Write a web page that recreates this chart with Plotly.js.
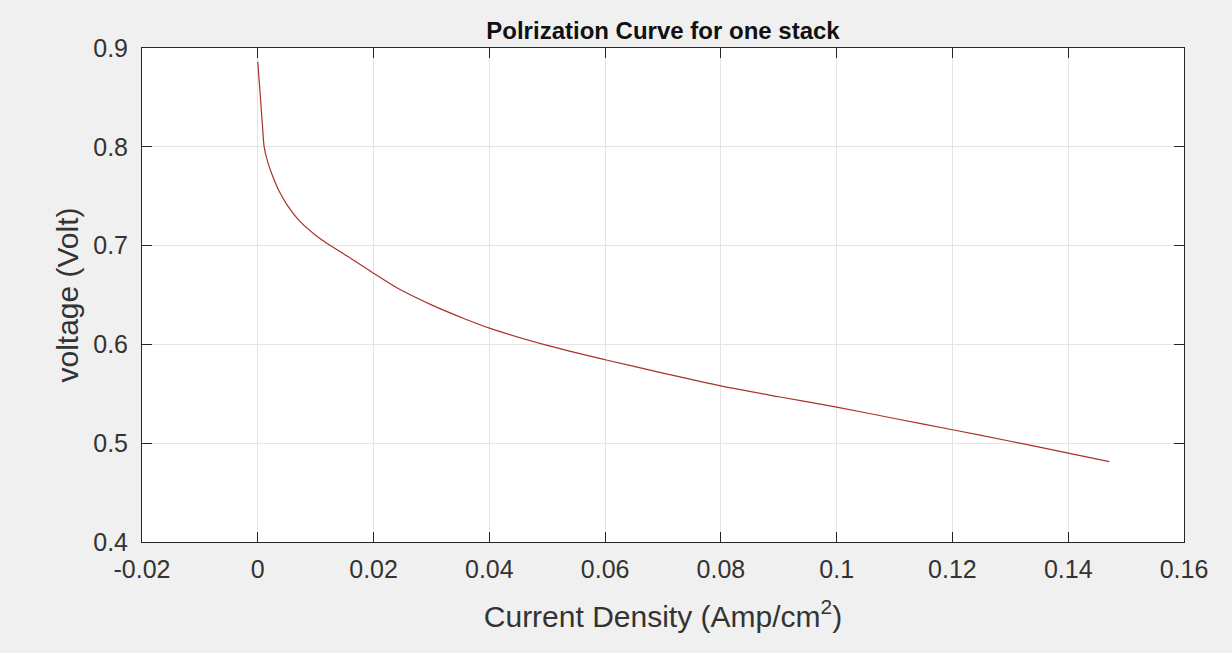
<!DOCTYPE html>
<html>
<head>
<meta charset="utf-8">
<script src="https://cdn.plot.ly/plotly-3.0.1.min.js"></script>
<style>
  html, body { margin: 0; padding: 0; background: #f0f0f0; }
  #chart { width: 1232px; height: 653px; }
</style>
</head>
<body>
<div id="chart"></div>
<script>
// Current density (Amp/cm^2)
const currentDensity = [0, 0.0002, 0.0004, 0.0006, 0.0008, 0.0011, 0.0017, 0.0026, 0.0037, 0.0052, 0.0072, 0.0101, 0.0128, 0.0161, 0.0200, 0.0241, 0.0300, 0.0357, 0.0400, 0.0500, 0.0600, 0.0700, 0.0800, 0.0900, 0.1000, 0.1100, 0.1200, 0.1300, 0.1400, 0.1471];
// Stack voltage (Volt)
const voltage = [0.886, 0.870, 0.855, 0.838, 0.822, 0.800, 0.785, 0.770, 0.755, 0.740, 0.725, 0.710, 0.699, 0.687, 0.672, 0.657, 0.640, 0.626, 0.6165, 0.599, 0.5845, 0.571, 0.558, 0.547, 0.5365, 0.525, 0.5136, 0.502, 0.490, 0.4813];

const xTickVals = [-0.02, 0, 0.02, 0.04, 0.06, 0.08, 0.1, 0.12, 0.14, 0.16];
const xTickText = ["-0.02", "0", "0.02", "0.04", "0.06", "0.08", "0.1", "0.12", "0.14", "0.16"];
const yTickVals = [0.4, 0.5, 0.6, 0.7, 0.8, 0.9];
const yTickText = ["0.4", "0.5", "0.6", "0.7", "0.8", "0.9"];

const chartTitle = "Polrization Curve for one stack";
const xTitle = "Current Density (Amp/cm<sup>2</sup>)";
const yTitle = "voltage (Volt)";

const axisColor = "#262626";
const fontFamily = "Liberation Sans, Arial, Helvetica, sans-serif";

const trace = {
  x: currentDensity,
  y: voltage,
  type: "scatter",
  mode: "lines",
  line: { color: "#a8322c", width: 1.2, shape: "spline", smoothing: 0.8 },
  hoverinfo: "x+y",
  showlegend: false
};

const commonAxis = {
  showline: true,
  linecolor: axisColor,
  linewidth: 1,
  mirror: "ticks",
  ticks: "inside",
  ticklen: 10,
  tickwidth: 1,
  tickcolor: axisColor,
  showgrid: true,
  gridcolor: "#e4e4e4",
  gridwidth: 1,
  zeroline: false,
  tickmode: "array",
  tickfont: { family: fontFamily, size: 25, color: "#333333" },
  automargin: false
};

const layout = {
  width: 1232,
  height: 653,
  paper_bgcolor: "#f0f0f0",
  plot_bgcolor: "#ffffff",
  margin: { l: 142, r: 48, t: 48, b: 111, pad: 0 },
  title: {
    text: "<b>" + chartTitle + "</b>",
    font: { family: fontFamily, size: 24, color: "#111111" },
    x: 0.5, xref: "paper",
    y: 1 - 31 / 653, yref: "container", yanchor: "middle"
  },
  xaxis: Object.assign({}, commonAxis, {
    range: [-0.02, 0.16],
    tickvals: xTickVals,
    ticktext: xTickText,
    ticklabelstandoff: 5,
    title: { text: xTitle, font: { family: fontFamily, size: 30, color: "#333333" }, standoff: 23 }
  }),
  yaxis: Object.assign({}, commonAxis, {
    range: [0.4, 0.9],
    tickvals: yTickVals,
    ticktext: yTickText,
    ticklabelstandoff: 8,
    title: { text: yTitle, font: { family: fontFamily, size: 30, color: "#333333" }, standoff: 5 }
  })
};

Plotly.newPlot("chart", [trace], layout, { displayModeBar: false, staticPlot: true });
</script>
</body>
</html>
